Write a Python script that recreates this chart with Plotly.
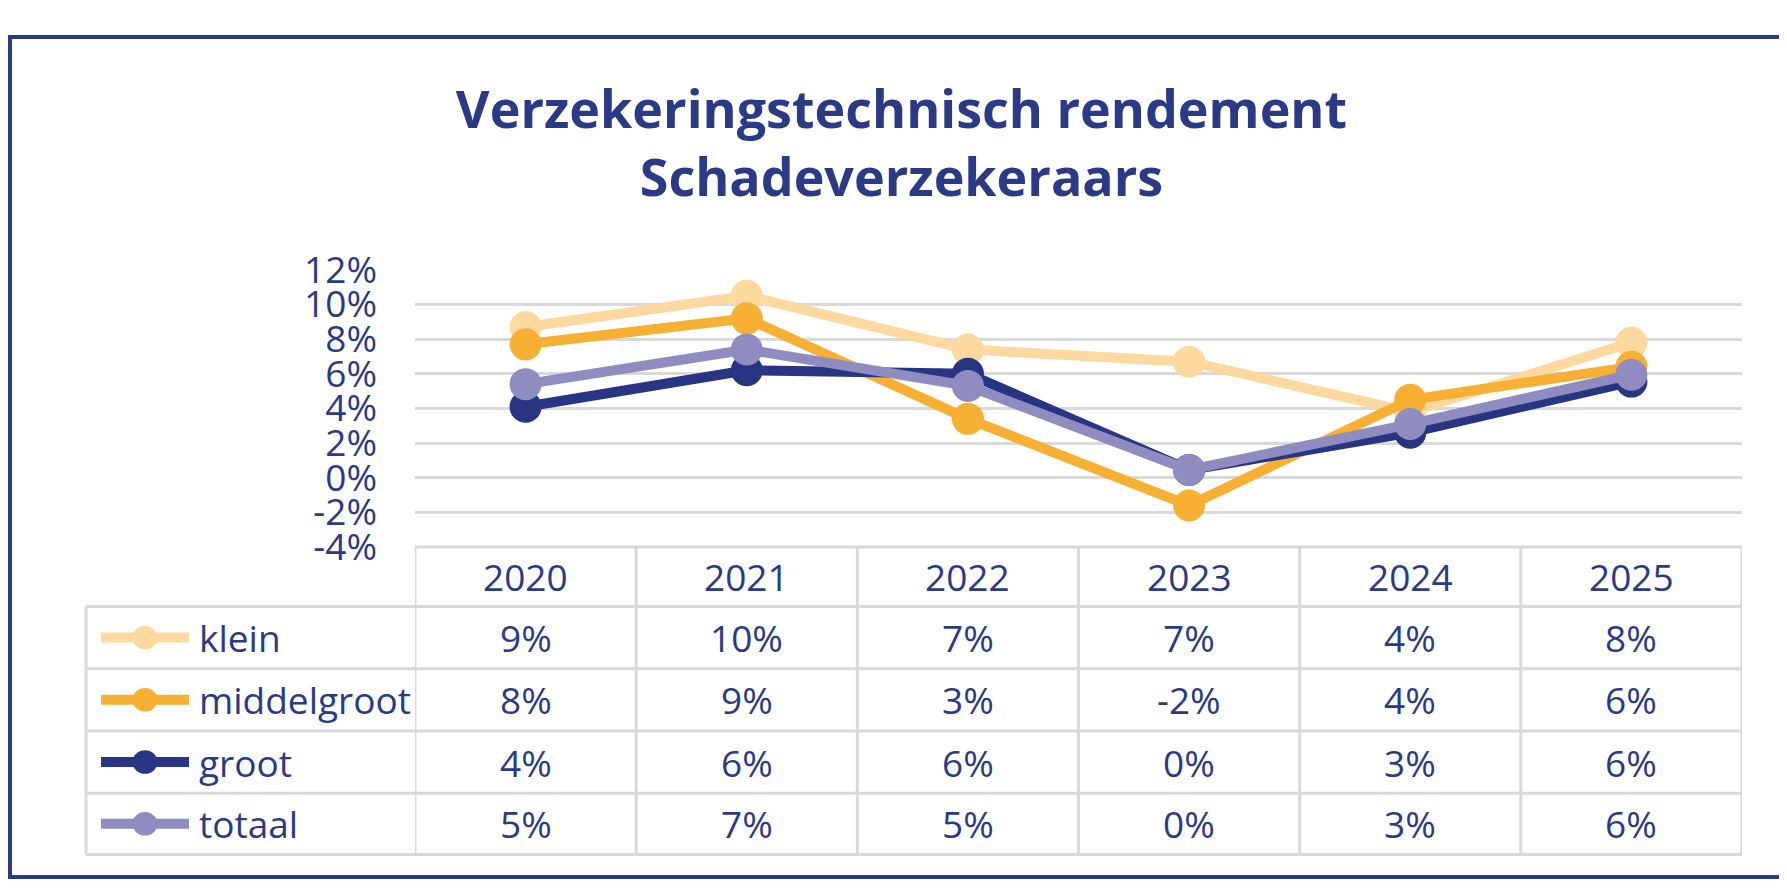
import plotly.graph_objects as go

# data
jaren = ['2020', '2021', '2022', '2023', '2024', '2025']
klein = [8.7, 10.5, 7.4, 6.7, 3.8, 7.8]
middelgroot = [7.7, 9.2, 3.4, -1.6, 4.5, 6.4]
groot = [4.1, 6.2, 6.0, 0.45, 2.6, 5.55]
totaal = [5.4, 7.4, 5.3, 0.45, 3.1, 5.95]

reeksen = ['klein', 'middelgroot', 'groot', 'totaal']
waarden = [klein, middelgroot, groot, totaal]
kleuren = ['#FDD9A0', '#F7B034', '#283583', '#8E8CC0']
y_ticks = [-4, -2, 0, 2, 4, 6, 8, 10, 12]

titel = 'Verzekeringstechnisch rendement<br>Schadeverzekeraars'

W, H = 1787, 895
NAVY = '#2B3A87'
GRIJS = '#D9D9D9'
FONT = 'Open Sans'

def px(x):
    return x / W

def py(y):
    return 1 - y / H

# plot-area / tabel geometrie (pixels)
links, rechts, boven, onder = 407, 1734, 249, 543
tabel_links = 78
rij_lijnen = [543, 606, 672, 738, 804, 869]

x_pos = list(range(len(jaren)))

fig = go.Figure()

for naam, vals, kleur in zip(reeksen, waarden, kleuren):
    fig.add_trace(go.Scatter(
        x=x_pos, y=vals, name=naam,
        mode='lines+markers',
        line=dict(color=kleur, width=10),
        marker=dict(color=kleur, size=32),
        showlegend=False,
        customdata=jaren,
        hovertemplate='%{customdata}: %{y:.1f}%<extra>' + naam + '</extra>'
    ))

shapes = []
annotations = []

# rand om de hele grafiek
shapes.append(dict(type='rect', xref='paper', yref='paper',
                   x0=px(2), x1=px(W - 2), y0=py(H - 2), y1=py(2),
                   line=dict(color=NAVY, width=4)))

# tabel: horizontale lijnen
for i, y in enumerate(rij_lijnen):
    x0 = links if i == 0 else tabel_links
    shapes.append(dict(type='line', xref='paper', yref='paper',
                       x0=px(x0), x1=px(rechts), y0=py(y), y1=py(y),
                       line=dict(color=GRIJS, width=3)))

# tabel: verticale lijnen op de categoriegrenzen
for i in range(len(jaren) + 1):
    shapes.append(dict(type='line', xref='x', yref='paper',
                       x0=i - 0.5, x1=i - 0.5, y0=py(rij_lijnen[0]), y1=py(rij_lijnen[-1]),
                       line=dict(color=GRIJS, width=3)))
shapes.append(dict(type='line', xref='paper', yref='paper',
                   x0=px(tabel_links), x1=px(tabel_links), y0=py(rij_lijnen[1]), y1=py(rij_lijnen[-1]),
                   line=dict(color=GRIJS, width=3)))

tekstfont = dict(family=FONT, size=37, color=NAVY)

# kopregel met jaren
kop_midden = (rij_lijnen[0] + rij_lijnen[1]) / 2
for i, jaar in enumerate(jaren):
    annotations.append(dict(x=i, xref='x', y=py(kop_midden), yref='paper',
                            text=jaar, showarrow=False,
                            xanchor='center', yanchor='middle', font=tekstfont))

# rijen met legenda-sleutel en waarden
for r, (naam, vals, kleur) in enumerate(zip(reeksen, waarden, kleuren)):
    yc = (rij_lijnen[r + 1] + rij_lijnen[r + 2]) / 2
    shapes.append(dict(type='line', xref='paper', yref='paper',
                       x0=px(93), x1=px(181), y0=py(yc), y1=py(yc),
                       line=dict(color=kleur, width=10)))
    shapes.append(dict(type='circle', xref='paper', yref='paper',
                       x0=px(137 - 12.5), x1=px(137 + 12.5),
                       y0=py(yc + 12.5), y1=py(yc - 12.5),
                       fillcolor=kleur, line=dict(width=0)))
    annotations.append(dict(x=px(189), xref='paper', y=py(yc), yref='paper',
                            text=naam, showarrow=False,
                            xanchor='left', yanchor='middle', font=tekstfont))
    for i, v in enumerate(vals):
        annotations.append(dict(x=i, xref='x', y=py(yc), yref='paper',
                                text='{:.0f}%'.format(v), showarrow=False,
                                xanchor='center', yanchor='middle', font=tekstfont))

fig.update_layout(
    width=W, height=H,
    autosize=False,
    margin=dict(l=0, r=0, t=0, b=0, pad=0),
    paper_bgcolor='white',
    plot_bgcolor='white',
    title=dict(text=titel, x=0.5, xanchor='center',
               y=py(120), yanchor='middle',
               font=dict(family=FONT, size=52, color=NAVY, weight='bold')),
    xaxis=dict(domain=[px(links), px(rechts)],
               range=[-0.5, len(jaren) - 0.5],
               showticklabels=False, showgrid=False, zeroline=False, showline=False),
    yaxis=dict(domain=[py(onder), py(boven)], range=[-4, 12],
               tickmode='array', tickvals=y_ticks,
               ticktext=['{}%'.format(v) for v in y_ticks],
               showgrid=True, gridcolor=GRIJS, gridwidth=3,
               zeroline=False, showline=False,
               ticklabelstandoff=37,
               tickfont=tekstfont),
    shapes=shapes,
    annotations=annotations,
)

fig.write_html('out.html')
